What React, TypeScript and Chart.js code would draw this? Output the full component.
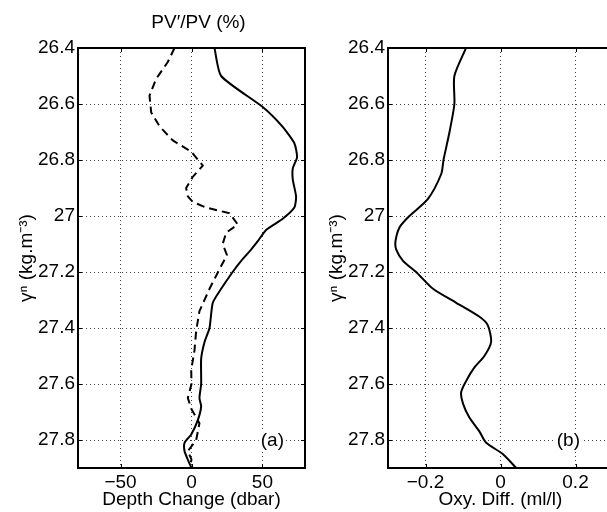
import React, { useEffect, useRef } from "react";
import { Chart, registerables } from "chart.js";
Chart.register(...registerables);

const FONT = '"Liberation Sans", Arial, Helvetica, sans-serif';
const FS = 19;

// axis ticks
const densityTicks = [26.4, 26.6, 26.8, 27, 27.2, 27.4, 27.6, 27.8];
const depthTicks = [-50, 0, 50];
const oxyTicks = [-0.2, 0, 0.2];

// (a) solid: depth change (dbar)
const depthDensity = [26.4, 26.5, 26.61, 26.68, 26.74, 26.79, 26.83, 26.87, 26.93, 26.97, 27.01, 27.05, 27.09, 27.12, 27.16, 27.2, 27.26, 27.31, 27.4, 27.45, 27.51, 27.6, 27.65, 27.68, 27.73, 27.78, 27.81, 27.84, 27.87, 27.9];
const depthValues = [16.2, 20.9, 50, 64, 72.5, 74.4, 71.4, 71.4, 73.7, 72.5, 64.3, 52.6, 46.7, 42, 35, 29, 20.9, 15, 12.7, 9.2, 6.8, 6.8, 5.6, 6.8, 4.4, -0.2, -4.9, -4.9, -2.6, 0];

// (a) dashed: PV'/PV (%)
const pvDensity = [26.4, 26.45, 26.51, 26.57, 26.63, 26.68, 26.73, 26.77, 26.82, 26.86, 26.9, 26.93, 26.95, 26.97, 26.99, 27.03, 27.06, 27.1, 27.14, 27.19, 27.26, 27.34, 27.41, 27.48, 27.55, 27.6, 27.65, 27.69, 27.74, 27.8, 27.84, 27.87, 27.9];
const pvValues = [-12, -16.7, -24.9, -29.6, -28.4, -22.5, -13.2, -0.2, 8, 0.9, -3.8, -2.6, 0.9, 10.3, 26.8, 32.6, 24.4, 22, 25, 19.7, 12.7, 5.6, 3.3, 2.1, -0.2, 0, -2.6, 0, 5.6, 3.3, -2.6, 0, -1.4];

// (b) oxygen difference (ml/l)
const oxyDensity = [26.4, 26.5, 26.6, 26.7, 26.8, 26.85, 26.94, 27.0, 27.04, 27.09, 27.12, 27.16, 27.2, 27.26, 27.31, 27.36, 27.39, 27.45, 27.5, 27.54, 27.59, 27.63, 27.67, 27.72, 27.77, 27.81, 27.85, 27.9];
const oxyValues = [-0.092, -0.123, -0.123, -0.136, -0.152, -0.158, -0.194, -0.243, -0.269, -0.28, -0.278, -0.26, -0.225, -0.18, -0.118, -0.056, -0.034, -0.025, -0.043, -0.069, -0.092, -0.105, -0.1, -0.083, -0.056, -0.038, 0.006, 0.042];

const fmt = (v: number) => String(Math.round(v * 10) / 10).replace("-", "\u2212");
const pts = (ys: number[], xs: number[]) => ys.map((y, i) => ({ x: xs[i], y }));

function framePlugin(xTicks: number[], tag: string, tagX: number, title?: string) {
  return {
    id: "frame",
    afterDatasetsDraw(chart: any) {
      const { ctx, chartArea: a, scales } = chart;
      ctx.save();
      ctx.strokeStyle = "#000";
      ctx.lineWidth = 2;
      ctx.strokeRect(a.left, a.top, a.right - a.left, a.bottom - a.top);
      ctx.lineWidth = 1;
      ctx.beginPath();
      for (const v of densityTicks) {
        const y = Math.round(scales.y.getPixelForValue(v)) + 0.5;
        ctx.moveTo(a.left, y); ctx.lineTo(a.left + 4, y);
        ctx.moveTo(a.right, y); ctx.lineTo(a.right - 4, y);
      }
      for (const v of xTicks) {
        const x = Math.round(scales.x.getPixelForValue(v)) + 0.5;
        ctx.moveTo(x, a.top); ctx.lineTo(x, a.top + 4);
        ctx.moveTo(x, a.bottom); ctx.lineTo(x, a.bottom - 4);
      }
      ctx.stroke();
      ctx.font = `${FS}px ${FONT}`;
      ctx.textAlign = "center";
      ctx.textBaseline = "middle";
      const w = ctx.measureText(tag).width;
      const tx = scales.x.getPixelForValue(tagX);
      const ty = scales.y.getPixelForValue(27.8);
      ctx.fillStyle = "#fff";
      ctx.fillRect(tx - w / 2 - 2, ty - 9, w + 4, 18);
      ctx.fillStyle = "#000";
      ctx.fillText(tag, tx, ty + 1);
      if (title) ctx.fillText(title, (a.left + a.right) / 2 + 7, 23);
      ctx.restore();
    },
  };
}

function makeConfig(opts: {
  datasets: any[]; xMin: number; xMax: number; xTicks: number[]; xTitle: string;
  padRight: number; tag: string; tagX: number; title?: string;
}): any {
  const tickFont = { family: FONT, size: FS };
  const grid = { color: "#444", lineWidth: 1, drawTicks: false };
  const border = { display: false, dash: [1, 3] };
  return {
    type: "scatter",
    data: { datasets: opts.datasets },
    options: {
      responsive: false,
      animation: false,
      layout: { padding: { top: 48, right: opts.padRight, left: 0, bottom: 0 } },
      plugins: { legend: { display: false }, tooltip: { enabled: false }, title: { display: false } },
      elements: { point: { radius: 0 } },
      scales: {
        x: {
          type: "linear", position: "bottom", min: opts.xMin, max: opts.xMax,
          afterBuildTicks: (s: any) => { s.ticks = opts.xTicks.map((v) => ({ value: v })); },
          afterFit: (s: any) => { s.height = 44; },
          ticks: { color: "#000", font: tickFont, padding: 3, maxRotation: 0, autoSkip: false, callback: (v: any) => fmt(Number(v)) },
          grid, border,
          title: { display: true, text: opts.xTitle, color: "#000", font: tickFont, padding: { top: 0, bottom: 1 } },
        },
        y: {
          type: "linear", position: "left", reverse: true, min: 26.4, max: 27.9,
          afterBuildTicks: (s: any) => { s.ticks = densityTicks.map((v) => ({ value: v })); },
          afterFit: (s: any) => { s.width = 78; },
          ticks: { color: "#000", font: tickFont, padding: 3, autoSkip: false, callback: (v: any) => fmt(Number(v)) },
          grid, border,
          title: { display: true, text: "\u03b3\u207f (kg.m\u207b\u00b3)", color: "#000", font: tickFont, padding: { top: 15, bottom: 0 } },
        },
      },
    },
    plugins: [framePlugin(opts.xTicks, opts.tag, opts.tagX, opts.title)],
  };
}

export default function App() {
  const leftRef = useRef<HTMLCanvasElement>(null);
  const rightRef = useRef<HTMLCanvasElement>(null);

  useEffect(() => {
    const line = { showLine: true, borderColor: "#000", borderWidth: 2, pointRadius: 0, fill: false, tension: 0, borderJoinStyle: "round" };
    const left = new Chart(leftRef.current as HTMLCanvasElement, makeConfig({
      datasets: [
        { ...line, label: "Depth Change", data: pts(depthDensity, depthValues), tension: 0.2 },
        { ...line, label: "PV'/PV", data: pts(pvDensity, pvValues), borderDash: [8, 5] },
      ],
      xMin: -80, xMax: 80, xTicks: depthTicks, xTitle: "Depth Change (dbar)",
      padRight: 5, tag: "(a)", tagX: 57, title: "PV\u2032/PV (%)",
    }));
    const right = new Chart(rightRef.current as HTMLCanvasElement, makeConfig({
      datasets: [{ ...line, label: "Oxy. Diff.", data: pts(oxyDensity, oxyValues), tension: 0.25 }],
      xMin: -0.3, xMax: 0.3, xTicks: oxyTicks, xTitle: "Oxy. Diff. (ml/l)",
      padRight: 7, tag: "(b)", tagX: 0.181,
    }));
    return () => { left.destroy(); right.destroy(); };
  }, []);

  return (
    <div style={{ position: "fixed", left: 0, top: 0, width: 607, height: 512, overflow: "hidden", background: "#fff" }}>
      <canvas ref={leftRef} width={310} height={512} style={{ position: "absolute", left: 0, top: 0 }} />
      <canvas ref={rightRef} width={310} height={512} style={{ position: "absolute", left: 310, top: 0 }} />
    </div>
  );
}
